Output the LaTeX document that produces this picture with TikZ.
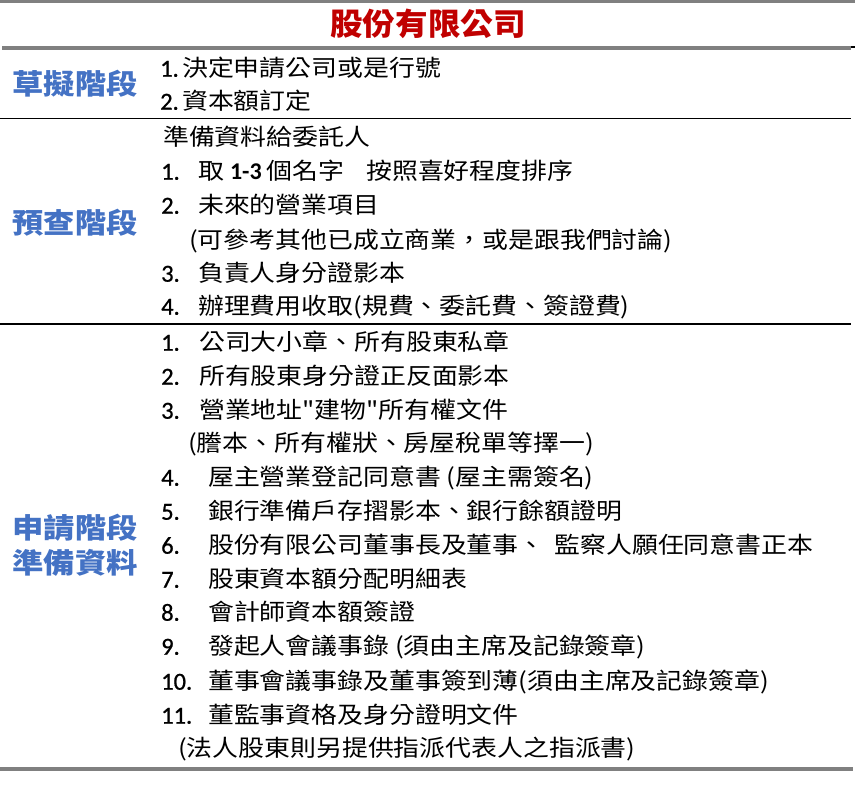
\documentclass[tikz,border=0pt]{standalone}
\usepackage{fontspec}
\newfontfamily\cjk[FakeStretch=1.125]{Noto Sans CJK TC}
\newfontfamily\cjkt[FakeStretch=1.05]{Noto Sans CJK TC}
\newfontfamily\cjkl[FakeStretch=1.12]{Noto Sans CJK TC}
\newfontfamily\lat[FakeBold=0.8]{Carlito}
\newfontfamily\latb{Carlito}
\definecolor{labblue}{HTML}{4472C4}
\definecolor{ttlred}{HTML}{C00000}
\definecolor{rulegray}{HTML}{808080}
\tikzset{
  txt/.style={anchor=base west, inner sep=0pt, font=\cjk\fontsize{23}{23}\selectfont},
  num/.style={anchor=base west, inner sep=0pt, font=\lat\fontsize{24.5}{24.5}\selectfont},
  lab/.style={anchor=center, inner sep=0pt, text=labblue, font=\cjkl\bfseries\fontsize{28}{28}\selectfont},
  ttl/.style={anchor=center, inner sep=0pt, text=ttlred, font=\cjkt\bfseries\fontsize{31}{31}\selectfont},
  grayrule/.style={draw=rulegray, line width=4pt},
  blackrule/.style={draw=black, line width=1.7pt}
}
\begin{document}
\begin{tikzpicture}[x=1pt,y=-1pt]
\useasboundingbox (0,0) rectangle (864,802);
% rules
\draw[grayrule, line width=3.5pt] (0,1.5) -- (855,1.5);
\draw[grayrule] (2,48) -- (851,48);
\draw[draw=black, line width=2pt] (851,47) -- (855,47);
\draw[blackrule] (0,118.5) -- (851,118.5);
\draw[blackrule, line width=1.5pt] (0,324) -- (851,324);
\draw[grayrule] (0,769) -- (853,769);
% title
\node[ttl] (title) at (428,24) {股份有限公司};
% left labels
\node[lab] (l1) at (75,84) {草擬階段};
\node[lab] (l2) at (75,223) {預查階段};
\node[lab] (l3a) at (75,528) {申請階段};
\node[lab] (l3b) at (75,563) {準備資料};
% row 1
\def\bo{8.7}
\node[num] (r1n1) at (160,68+\bo) {1.};
\node[txt] (r1t1) at (182,68+\bo) {決定申請公司或是行號};
\node[num] (r1n2) at (160,101+\bo) {2.};
\node[txt] (r1t2) at (182,101+\bo) {資本額訂定};
% row 2
\node[txt] (r2h) at (163,137+\bo) {準備資料給委託人};
\node[num] (r2n1) at (161,171+\bo) {1.};
\node[txt] (r2t1) at (198,171+\bo) {取\hspace{6pt}{\latb\bfseries\fontsize{24}{24}\selectfont 1-3}\hspace{5pt}個名字\hspace{22pt}按照喜好程度排序};
\node[num] (r2n2) at (161,205+\bo) {2.};
\node[txt] (r2t2) at (198,205+\bo) {未來的營業項目};
\node[txt] (r2t2b) at (189,240+\bo) {(可參考其他已成立商業，或是跟我們討論)};
\node[num] (r2n3) at (161,273+\bo) {3.};
\node[txt] (r2t3) at (198,273+\bo) {負責人身分證影本};
\node[num] (r2n4) at (161,306+\bo) {4.};
\node[txt] (r2t4) at (198,306+\bo) {辦理費用收取(規費、委託費、簽證費)};
% row 3
\node[num] (r3n1) at (161,342+\bo) {1.};
\node[txt] (r3t1) at (199,342+\bo) {公司大小章、所有股東私章};
\node[num] (r3n2) at (161,376+\bo) {2.};
\node[txt] (r3t2) at (199,376+\bo) {所有股東身分證正反面影本};
\node[num] (r3n3) at (161,410+\bo) {3.};
\node[txt] (r3t3) at (199,410+\bo) {營業地址"建物"所有權文件};
\node[txt] (r3t3b) at (188,443+\bo) {(謄本、所有權狀、房屋稅單等擇一)};
\node[num] (r3n4) at (161,477+\bo) {4.};
\node[txt] (r3t4) at (208,477+\bo) {屋主營業登記同意書 (屋主需簽名)};
\node[num] (r3n5) at (161,511+\bo) {5.};
\node[txt] (r3t5) at (208,511+\bo) {銀行準備戶存摺影本、銀行餘額證明};
\node[num] (r3n6) at (161,545+\bo) {6.};
\node[txt] (r3t6) at (208,545+\bo) {股份有限公司董事長及董事、\hspace{10pt}監察人願任同意書正本};
\node[num] (r3n7) at (161,579+\bo) {7.};
\node[txt] (r3t7) at (208,579+\bo) {股東資本額分配明細表};
\node[num] (r3n8) at (161,612+\bo) {8.};
\node[txt] (r3t8) at (208,612+\bo) {會計師資本額簽證};
\node[num] (r3n9) at (161,646+\bo) {9.};
\node[txt] (r3t9) at (208,646+\bo) {發起人會議事錄 (須由主席及記錄簽章)};
\node[num] (r3n10) at (161,681+\bo) {10.};
\node[txt] (r3t10) at (208,681+\bo) {董事會議事錄及董事簽到薄(須由主席及記錄簽章)};
\node[num] (r3n11) at (161,715+\bo) {11.};
\node[txt] (r3t11) at (208,715+\bo) {董監事資格及身分證明文件};
\node[txt] (r3t11b) at (178,748+\bo) {(法人股東則另提供指派代表人之指派書)};
\end{tikzpicture}
\end{document}
